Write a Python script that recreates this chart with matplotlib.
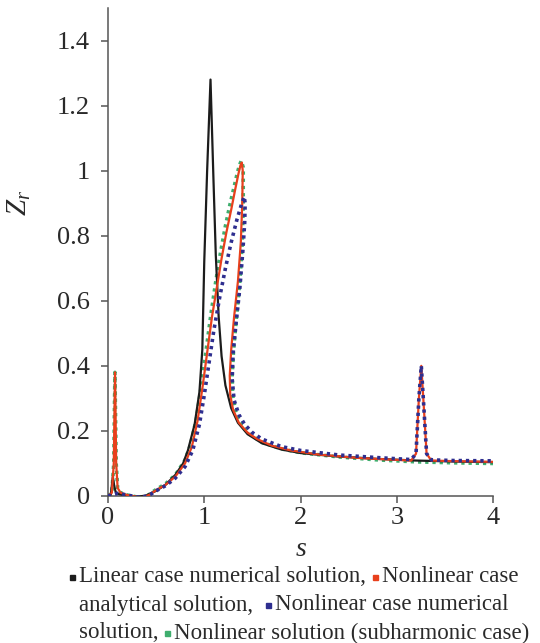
import matplotlib
matplotlib.use("Agg")
import matplotlib.pyplot as plt
from matplotlib.lines import Line2D

plt.rcParams['font.family'] = ['Liberation Serif', 'DejaVu Sans']
plt.rcParams['mathtext.fontset'] = 'custom'
plt.rcParams['mathtext.rm'] = 'Liberation Serif'
plt.rcParams['mathtext.it'] = 'Liberation Serif:italic'

# linear case, numerical solution
lin_s = [0, 0.03, 0.05, 0.065, 0.08, 0.11, 0.18, 0.3, 0.4, 0.5, 0.6, 0.7, 0.78,
         0.83, 0.9, 0.95, 0.98, 1.0, 1.03, 1.065, 1.095, 1.12, 1.15, 1.18, 1.22,
         1.28, 1.35, 1.45, 1.6, 1.8, 2.0, 2.4, 2.8, 3.2, 3.6, 4.0]
lin_z = [0, 0.005, 0.06, 0.03, 0.012, 0.006, 0.002, -0.003, 0.002, 0.016, 0.035,
         0.065, 0.1, 0.14, 0.22, 0.32, 0.45, 0.72, 1.0, 1.28, 0.98, 0.74, 0.55,
         0.43, 0.34, 0.27, 0.225, 0.19, 0.162, 0.143, 0.132, 0.121, 0.114, 0.109,
         0.106, 0.104]

# nonlinear case, analytical solution
ana_s = [0, 0.04, 0.06, 0.073, 0.085, 0.1, 0.13, 0.2, 0.3, 0.35, 0.42, 0.5, 0.6,
         0.7, 0.8, 0.87, 0.93, 0.98, 1.03, 1.08, 1.13, 1.18, 1.23, 1.28, 1.32,
         1.355, 1.375, 1.39, 1.40, 1.395, 1.38, 1.35, 1.31, 1.28, 1.265, 1.27,
         1.3, 1.36, 1.45, 1.55, 1.7, 1.9, 2.2, 2.6, 3.0, 3.15, 3.2, 3.23, 3.255,
         3.28, 3.31, 3.36, 3.6, 4.0]
ana_z = [0, 0.01, 0.1, 0.38, 0.1, 0.025, 0.01, 0.003, -0.003, -0.004, 0.002,
         0.018, 0.035, 0.06, 0.1, 0.15, 0.23, 0.33, 0.44, 0.55, 0.64, 0.73, 0.81,
         0.88, 0.94, 0.99, 1.015, 1.025, 1.0, 0.9, 0.78, 0.66, 0.55, 0.45, 0.37,
         0.31, 0.265, 0.225, 0.195, 0.175, 0.155, 0.14, 0.127, 0.117, 0.111,
         0.109, 0.13, 0.3, 0.40, 0.28, 0.13, 0.109, 0.107, 0.105]

# nonlinear case, numerical solution
num_s = [0, 0.1, 0.2, 0.3, 0.35, 0.42, 0.5, 0.6, 0.7, 0.8, 0.88, 0.95, 1.0, 1.05,
         1.1, 1.16, 1.22, 1.28, 1.34, 1.39, 1.415, 1.425, 1.42, 1.40, 1.37, 1.33,
         1.3, 1.29, 1.31, 1.36, 1.42, 1.5, 1.6, 1.8, 2.0, 2.4, 2.8, 3.15, 3.2,
         3.23, 3.255, 3.28, 3.31, 3.36, 3.6, 4.0]
num_z = [0, 0.008, 0.003, -0.003, -0.004, 0.001, 0.016, 0.032, 0.055, 0.09, 0.14,
         0.22, 0.31, 0.41, 0.51, 0.61, 0.70, 0.78, 0.85, 0.90, 0.92, 0.90, 0.84,
         0.75, 0.64, 0.53, 0.44, 0.36, 0.295, 0.25, 0.22, 0.195, 0.175, 0.152,
         0.14, 0.126, 0.118, 0.112, 0.13, 0.3, 0.40, 0.28, 0.13, 0.111, 0.109,
         0.108]

# nonlinear solution, subharmonic case
sub_s = [0, 0.04, 0.06, 0.072, 0.085, 0.1, 0.13, 0.2, 0.3, 0.35, 0.42, 0.5, 0.6,
         0.7, 0.8, 0.86, 0.92, 0.97, 1.02, 1.07, 1.12, 1.17, 1.22, 1.27, 1.31,
         1.345, 1.37, 1.385, 1.405, 1.405, 1.395, 1.37, 1.335, 1.305, 1.29,
         1.295, 1.33, 1.39, 1.47, 1.6, 1.8, 2.0, 2.4, 2.8, 3.2, 3.6, 4.0]
sub_z = [0, 0.01, 0.1, 0.38, 0.1, 0.025, 0.01, 0.003, -0.003, -0.004, 0.003,
         0.02, 0.038, 0.065, 0.11, 0.16, 0.24, 0.34, 0.45, 0.56, 0.66, 0.75,
         0.83, 0.90, 0.95, 0.995, 1.02, 1.03, 1.01, 0.9, 0.78, 0.66, 0.55, 0.45,
         0.37, 0.31, 0.255, 0.215, 0.19, 0.165, 0.145, 0.133, 0.12, 0.111,
         0.105, 0.102, 0.100]

y_ticks = [0, 0.2, 0.4, 0.6, 0.8, 1, 1.2, 1.4]
y_tick_labels = ['0', '0.2', '0.4', '0.6', '0.8', '1', '1.2', '1.4']
x_ticks = [0, 1, 2, 3, 4]

c_black = '#1c1c1c'
c_red = '#e8401c'
c_blue = '#2e2e8f'
c_green = '#3fae6e'
c_text = '#2a2a2a'

W, H = 540, 643
fig = plt.figure(figsize=(W / 100, H / 100), dpi=100)
ax = fig.add_axes([108 / W, 1 - 496 / H, 385 / W, 488 / H])

ax.plot(lin_s, lin_z, color=c_black, lw=1.6, zorder=3)
ax.plot(sub_s, sub_z, color=c_green, lw=2.6, ls=(0, (0.9, 1.1)),
        dash_capstyle='butt', zorder=2)
ax.plot(ana_s, ana_z, color=c_red, lw=1.6, zorder=4)
ax.plot(num_s, num_z, color=c_blue, lw=2.6, ls=(0, (0.9, 1.1)),
        dash_capstyle='butt', zorder=5)

ax.set_xlim(0, 4)
ax.set_ylim(0, 1.5)
ax.set_yticks(y_ticks)
ax.set_yticklabels(y_tick_labels)
ax.set_xticks(x_ticks)
for side in ['top', 'right']:
    ax.spines[side].set_visible(False)
for side in ['left', 'bottom']:
    ax.spines[side].set_color('#555555')
    ax.spines[side].set_linewidth(1.1)
ax.tick_params(direction='out', length=5, width=1.1, color='#555555',
               labelsize=19, labelcolor=c_text)
ax.tick_params(axis='y', pad=8)
ax.tick_params(axis='x', pad=3)

ax.set_ylabel('$Z_r$', fontsize=21, color=c_text, rotation=90)
ax.yaxis.set_label_coords(-0.195, 0.6)
ax.set_xlabel('$s$', fontsize=20, color=c_text, va='center')
ax.xaxis.set_label_coords(0.5, (496 - 550) / 488)

# caption-style legend with inline square markers
fig.canvas.draw()
rend = fig.canvas.get_renderer()
leg_size = 16.5


def put_line(y_px, x_px, parts):
    x = x_px
    for kind, val in parts:
        if kind == 'm':
            fig.add_artist(Line2D([(x + 3) / W], [1 - y_px / H], marker='s',
                                  markersize=3.6, color=val, lw=0,
                                  transform=fig.transFigure))
            x += 10
        else:
            t = fig.text(x / W, 1 - y_px / H, val, fontsize=leg_size,
                         color=c_text, va='center', ha='left')
            x += t.get_window_extent(rend).width


put_line(577, 69, [('m', c_black), ('t', 'Linear case numerical solution, '),
                   ('m', c_red), ('t', 'Nonlinear case')])
put_line(605, 79, [('t', 'analytical solution,  '), ('m', c_blue),
                   ('t', 'Nonlinear case numerical')])
put_line(633, 79, [('t', 'solution, '), ('m', c_green),
                   ('t', 'Nonlinear solution (subharmonic case)')])

fig.savefig('out.png', dpi=100)
